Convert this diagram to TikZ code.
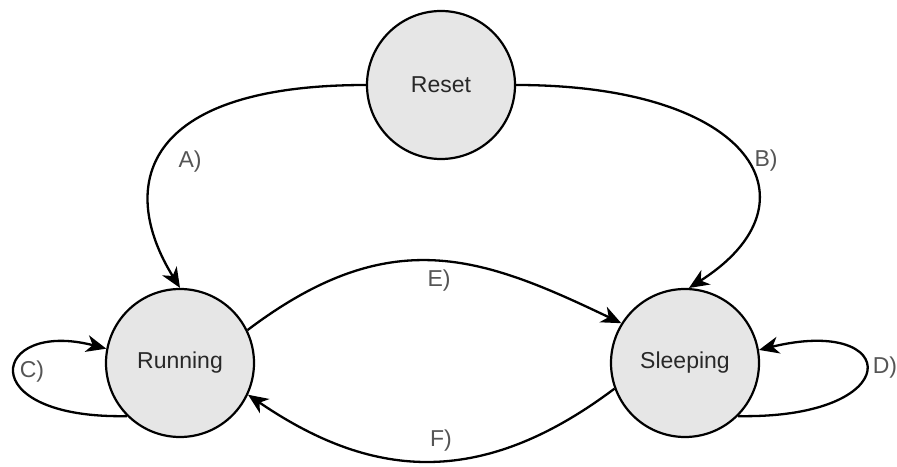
\documentclass[tikz,border=0pt]{standalone}
\usepackage{fontspec}
\setmainfont{Liberation Sans}
\usepackage{tikz}
\usetikzlibrary{positioning,arrows.meta}
\definecolor{stategray}{RGB}{230,230,230}
\definecolor{statetext}{RGB}{40,40,40}
\definecolor{labeltext}{RGB}{85,85,85}
\tikzset{
  statediagram/.style={
    x=1pt,y=1pt
    ,on grid
    ,font={\fontsize{23}{27}\selectfont}
  }
  ,statecircle/.style={circle
    ,draw=black
    ,line width=2.2pt
    ,fill=stategray
    ,minimum size=148pt
    ,inner sep=0pt
    ,text=statetext
  }
  ,trans/.style={draw=black,line width=2.3pt
    ,-{Stealth[length=20pt,width=17pt,inset=6pt]}}
  ,translabel/.style={inner sep=0pt,text=labeltext}
}

\begin{document}
\begin{tikzpicture}[statediagram]
    \useasboundingbox (0,0) rectangle (897,466);
    % states
    \node[statecircle] (running) at (180,103) {Running};
    \node[statecircle,right=505pt of running] (sleeping) {Sleeping};
    \node[statecircle,above right=278pt and 261pt of running] (reset) {Reset};
    % transitions
    \draw[trans] (reset.west) .. controls +(-227,0) and +(-62,100) .. (running.north);
    \draw[trans] (reset.east) .. controls +(238,0) and +(134,85) .. (sleeping.87);
    \draw[trans] (running.26) .. controls +(143,108) and +(-140,67) .. (sleeping.148);
    \draw[trans] (sleeping.200) .. controls +(-137,-103) and +(120,-82) .. (running.335);
    \draw[trans] (running.225) .. controls +(-157,-3) and +(-115,30) .. (running.169);
    \draw[trans] (sleeping.315) .. controls +(170,-3) and +(143,35) .. (sleeping.10);
    % labels
    \node[translabel] (labA) at (190,304) {A)};
    \node[translabel] (labB) at (766,305) {B)};
    \node[translabel] (labC) at (32,94) {C)};
    \node[translabel] (labD) at (885,98) {D)};
    \node[translabel] (labE) at (439,185) {E)};
    \node[translabel] (labF) at (441,25) {F)};
\end{tikzpicture}
\end{document}
